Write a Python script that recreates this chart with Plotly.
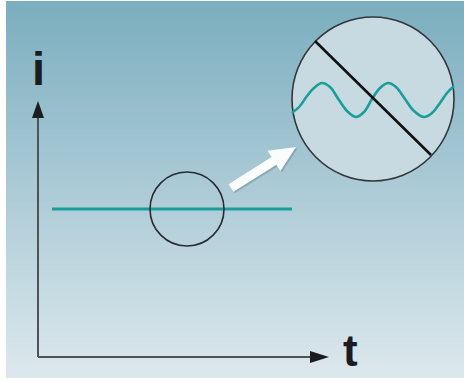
import plotly.graph_objects as go
import math

W, H = 464, 381

# ---- data (in picture coordinates) ----
dc_t = [52, 292]
dc_i = [209, 209]

ripple_t = [292, 300, 307, 314, 322, 330, 339, 348, 356, 364, 372, 380, 388, 396, 405, 414, 424, 432, 440, 447, 454]
ripple_i = [113, 106, 96, 88, 83, 87, 100, 112, 117, 112, 99, 88, 83, 87, 99, 111, 117, 113, 103, 93, 86]

axis_labels = ["i", "t"]

TEAL = "#1a9e9a"

fig = go.Figure()

shapes = []
# background gradient
top = (123, 174, 191)
bot = (221, 232, 237)
y0, y1 = 1, 378
step = 2
y = y0
while y < y1:
    f = (y - y0) / (y1 - y0)
    c = tuple(round(top[k] + (bot[k] - top[k]) * f) for k in range(3))
    shapes.append(dict(type="rect", x0=6, x1=464, y0=y, y1=min(y + step + 0.5, y1),
                       fillcolor="rgb(%d,%d,%d)" % c, line=dict(width=0), layer="below"))
    y += step

# axes
shapes.append(dict(type="line", x0=38, y0=357, x1=38, y1=112, line=dict(color="#4d5358", width=2)))
shapes.append(dict(type="line", x0=38, y0=357, x1=315, y1=357, line=dict(color="#4d5358", width=2)))
shapes.append(dict(type="path", path="M 38 101 L 32 118 L 44 118 Z", fillcolor="#1b1b22", line=dict(width=0)))
shapes.append(dict(type="path", path="M 329 357 L 310 351 L 310 363 Z", fillcolor="#1b1b22", line=dict(width=0)))

# big zoom circle
shapes.append(dict(type="circle", x0=292, y0=17, x1=454, y1=181, fillcolor="#c7dae1",
                   line=dict(color="#33363a", width=1.6), layer="below"))

# small circle
shapes.append(dict(type="circle", x0=150, y0=172, x1=224, y1=246,
                   line=dict(color="#262b35", width=1.6)))

# diagonal line in zoom circle
shapes.append(dict(type="line", x0=315, y0=41, x1=431, y1=155, line=dict(color="#111111", width=2.6)))

# white arrow
tx, ty = 231, 188
hx, hy = 296, 147
dx, dy = hx - tx, hy - ty
L = math.hypot(dx, dy)
ux, uy = dx / L, dy / L
nx, ny = -uy, ux
sw, hw, hl = 4.5, 12, 26
bx, by = hx - ux * hl, hy - uy * hl
pts = [
    (tx + nx * sw, ty + ny * sw),
    (bx + nx * sw, by + ny * sw),
    (bx + nx * hw, by + ny * hw),
    (hx, hy),
    (bx - nx * hw, by - ny * hw),
    (bx - nx * sw, by - ny * sw),
    (tx - nx * sw, ty - ny * sw),
]
shadow = "M " + " L ".join("%.1f %.1f" % (px + 1.5, py + 1.5) for px, py in pts) + " Z"
path = "M " + " L ".join("%.1f %.1f" % (px, py) for px, py in pts) + " Z"
shapes.append(dict(type="path", path=shadow, fillcolor="rgba(90,110,120,0.35)", line=dict(width=0)))
shapes.append(dict(type="path", path=path, fillcolor="#fbfcfc", line=dict(width=0)))

fig.add_trace(go.Scatter(x=dc_t, y=dc_i, mode="lines", line=dict(color=TEAL, width=3),
                         hoverinfo="skip", showlegend=False))
fig.add_trace(go.Scatter(x=ripple_t, y=ripple_i, mode="lines",
                         line=dict(color=TEAL, width=2.6, shape="spline", smoothing=1.0),
                         hoverinfo="skip", showlegend=False))

annotations = [
    dict(x=38, y=97, text="<b>%s</b>" % axis_labels[0], showarrow=False, xanchor="center", yanchor="bottom",
         font=dict(family="Liberation Sans, Arial", size=47, color="#1b1b22")),
    dict(x=350, y=377, text="<b>%s</b>" % axis_labels[1], showarrow=False, xanchor="center", yanchor="bottom",
         font=dict(family="Liberation Sans, Arial", size=44, color="#1b1b22")),
]

fig.update_layout(
    width=W, height=H, margin=dict(l=0, r=0, t=0, b=0),
    paper_bgcolor="white", plot_bgcolor="white",
    xaxis=dict(range=[0, W], visible=False, fixedrange=True),
    yaxis=dict(range=[H, 0], visible=False, fixedrange=True),
    shapes=shapes, annotations=annotations, showlegend=False,
)

fig.write_html("out.html", config={"displayModeBar": False},
               post_script="document.body.style.margin='0';")
